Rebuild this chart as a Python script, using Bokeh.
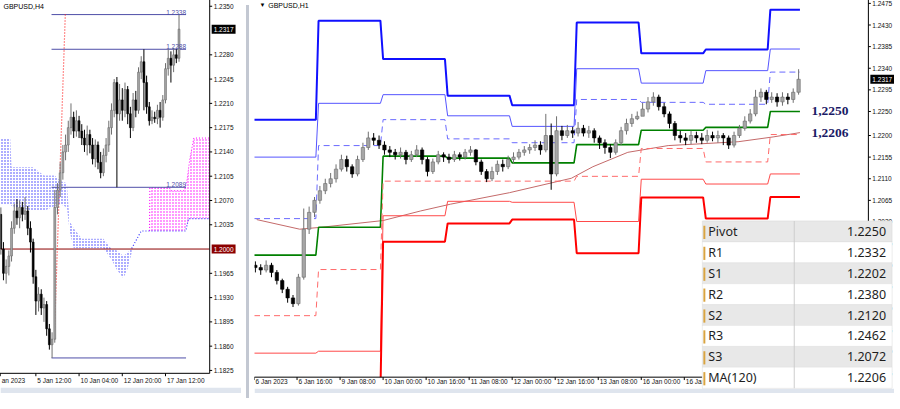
import numpy as np
from bokeh.plotting import figure
from bokeh.models import Range1d, Label, BoxAnnotation, Div, ColumnDataSource
from bokeh.layouts import row
from bokeh.core.properties import value
from bokeh.embed import file_html
from bokeh.resources import INLINE

# ======================= DATA =======================
# ---- left panel: GBPUSD H4 (bar index 0 = 5 Jan 12:00) ----
H4_FIRST_INDEX = -13
H4_OPEN_FIRST = 1.2050
H4_CLOSE = [1.2000, 1.1965, 1.1975, 1.1990, 1.2030, 1.2055, 1.2045, 1.2060, 1.2050, 1.2055, 1.2030, 1.2010, 1.1960,
            1.1925, 1.1935, 1.1915, 1.1920, 1.1885, 1.1862, 1.1870, 1.2060, 1.2085, 1.2110, 1.2140, 1.2150, 1.2175,
            1.2190, 1.2170, 1.2185, 1.2170, 1.2160, 1.2150, 1.2165, 1.2150, 1.2130, 1.2150, 1.2125, 1.2110, 1.2135,
            1.2150, 1.2175, 1.2200, 1.2240, 1.2195, 1.2215, 1.2200, 1.2230, 1.2195, 1.2175, 1.2215, 1.2200, 1.2255,
            1.2270, 1.2240, 1.2205, 1.2185, 1.2190, 1.2188, 1.2200, 1.2190, 1.2215, 1.2260, 1.2275, 1.2265, 1.2280,
            1.2275, 1.2317]
H4_HIGH = [1.2060, 1.2010, 1.1985, 1.1998, 1.2040, 1.2065, 1.2072, 1.2070, 1.2068, 1.2075, 1.2062, 1.2040, 1.2015,
           1.1970, 1.1945, 1.1942, 1.1930, 1.1925, 1.1892, 1.1880, 1.2085, 1.2095, 1.2125, 1.2150, 1.2165, 1.2185,
           1.2210, 1.2198, 1.2200, 1.2192, 1.2180, 1.2172, 1.2178, 1.2172, 1.2160, 1.2158, 1.2155, 1.2140, 1.2145,
           1.2160, 1.2185, 1.2210, 1.2245, 1.2248, 1.2238, 1.2232, 1.2240, 1.2235, 1.2205, 1.2225, 1.2228, 1.2262,
           1.2278, 1.2288, 1.2250, 1.2212, 1.2200, 1.2198, 1.2208, 1.2212, 1.2222, 1.2268, 1.2288, 1.2285, 1.2290,
           1.2288, 1.2338]
H4_LOW = [1.1992, 1.1955, 1.1950, 1.1962, 1.1982, 1.2022, 1.2035, 1.2030, 1.2040, 1.2042, 1.2020, 1.1995, 1.1950,
          1.1905, 1.1910, 1.1905, 1.1895, 1.1875, 1.1855, 1.1843, 1.1865, 1.2050, 1.2075, 1.2100, 1.2128, 1.2140,
          1.2165, 1.2160, 1.2162, 1.2160, 1.2150, 1.2140, 1.2135, 1.2138, 1.2122, 1.2118, 1.2115, 1.2102, 1.2105,
          1.2125, 1.2140, 1.2165, 1.2190, 1.2089, 1.2185, 1.2185, 1.2190, 1.2180, 1.2160, 1.2170, 1.2190, 1.2195,
          1.2245, 1.2200, 1.2195, 1.2178, 1.2180, 1.2182, 1.2180, 1.2175, 1.2185, 1.2210, 1.2250, 1.2240, 1.2255,
          1.2268, 1.2270]
H4_TICK_BARS = [-13.2, 0, 16, 32, 48]
H4_TICK_LABELS = ["an 2023", "5 Jan 12:00", "10 Jan 04:00", "12 Jan 20:00", "17 Jan 12:00"]
H4_PRICE_TICKS = [1.1825, 1.1860, 1.1895, 1.1930, 1.1965, 1.2035, 1.2070, 1.2105, 1.2140,
                  1.2175, 1.2210, 1.2245, 1.2280, 1.2350]
H4_LEVELS = [1.2338, 1.2288, 1.2089]
H4_LEVEL_LOW = 1.1843
H4_LEVEL_START, H4_LEVEL_END = 5.8, 55.6
H4_ROUND_LEVEL = 1.2000
H4_LAST = 1.2317
H4_TREND_I = [10.9, 6.9]
H4_TREND_P = [1.2338, 1.1880]
# Ichimoku cloud
KUMO_BLUE_I = [-13.1, -9.5, -9.0, -1.0, 3.0, 7.0, 9.0, 11.5, 12.5, 14.0, 17.0, 25.0, 28.0, 30.0, 32.4, 34.0, 35.5]
KUMO_BLUE_TOP = [1.2160, 1.2160, 1.2118, 1.2118, 1.2106, 1.2106, 1.2098, 1.2095, 1.2040, 1.2030, 1.2015, 1.2015,
                 1.2000, 1.1998, 1.1990, 1.1995, 1.2001]
KUMO_BLUE_BOT = [1.2065, 1.2065, 1.2062, 1.2055, 1.2055, 1.2062, 1.2065, 1.2060, 1.2026, 1.2001, 1.2001, 1.2001,
                 1.1985, 1.1970, 1.1958, 1.1972, 1.1995]
KUMO_MAG_I = [42.1, 42.2, 49.5, 50.0, 55.0, 56.0, 57.0, 58.5, 64.4]
KUMO_MAG_TOP = [1.2026, 1.2088, 1.2088, 1.2084, 1.2084, 1.2100, 1.2130, 1.2160, 1.2160]
KUMO_MAG_BOT = [1.2026, 1.2026, 1.2026, 1.2026, 1.2026, 1.2035, 1.2044, 1.2044, 1.2044]
SPAN_I = [35.5, 39.0, 55.5, 56.5, 64.4]
SPAN_P = [1.2001, 1.2026, 1.2026, 1.2044, 1.2044]

# ---- right panel: GBPUSD H1 (shown as 2-hour candles, bar 0 = 6 Jan 00:00) ----
H1_OPEN_FIRST = 1.1930
H1_CLOSE = [1.1925, 1.1920, 1.1930, 1.1915, 1.1898, 1.1880, 1.1862, 1.1850, 1.1905, 1.2005, 1.2040, 1.2065,
            1.2085, 1.2100, 1.2110, 1.2130, 1.2150, 1.2135, 1.2120, 1.2150, 1.2175, 1.2195, 1.2190, 1.2180,
            1.2170, 1.2165, 1.2160, 1.2165, 1.2150, 1.2160, 1.2170, 1.2150, 1.2125, 1.2145, 1.2160, 1.2155,
            1.2150, 1.2160, 1.2155, 1.2165, 1.2170, 1.2145, 1.2125, 1.2110, 1.2125, 1.2140, 1.2135, 1.2150,
            1.2155, 1.2165, 1.2170, 1.2175, 1.2180, 1.2170, 1.2200, 1.2120, 1.2210, 1.2200, 1.2210, 1.2205,
            1.2215, 1.2205, 1.2210, 1.2195, 1.2185, 1.2175, 1.2165, 1.2185, 1.2210, 1.2225, 1.2235, 1.2240,
            1.2255, 1.2270, 1.2280, 1.2260, 1.2245, 1.2225, 1.2200, 1.2195, 1.2190, 1.2200, 1.2195, 1.2190,
            1.2200, 1.2195, 1.2200, 1.2195, 1.2180, 1.2200, 1.2215, 1.2230, 1.2245, 1.2280, 1.2290, 1.2275,
            1.2280, 1.2270, 1.2280, 1.2275, 1.2290, 1.2317]
H1_HIGH = [1.1938, 1.1932, 1.1940, 1.1935, 1.1920, 1.1902, 1.1885, 1.1868, 1.1912, 1.2048, 1.2052, 1.2072,
           1.2095, 1.2110, 1.2122, 1.2140, 1.2160, 1.2158, 1.2140, 1.2158, 1.2185, 1.2208, 1.2205, 1.2200,
           1.2188, 1.2178, 1.2172, 1.2175, 1.2170, 1.2168, 1.2180, 1.2175, 1.2155, 1.2152, 1.2168, 1.2165,
           1.2162, 1.2168, 1.2165, 1.2172, 1.2178, 1.2172, 1.2150, 1.2130, 1.2135, 1.2148, 1.2150, 1.2158,
           1.2165, 1.2172, 1.2178, 1.2182, 1.2190, 1.2188, 1.2245, 1.2225, 1.2240, 1.2220, 1.2222, 1.2218,
           1.2228, 1.2222, 1.2220, 1.2215, 1.2200, 1.2192, 1.2182, 1.2192, 1.2218, 1.2235, 1.2245, 1.2250,
           1.2268, 1.2280, 1.2290, 1.2285, 1.2268, 1.2250, 1.2230, 1.2210, 1.2205, 1.2210, 1.2208, 1.2205,
           1.2212, 1.2208, 1.2210, 1.2205, 1.2200, 1.2208, 1.2222, 1.2240, 1.2255, 1.2295, 1.2298, 1.2295,
           1.2290, 1.2288, 1.2290, 1.2288, 1.2298, 1.2338]
H1_LOW = [1.1915, 1.1910, 1.1915, 1.1905, 1.1890, 1.1872, 1.1852, 1.1843, 1.1846, 1.1900, 1.1995, 1.2030,
          1.2058, 1.2078, 1.2092, 1.2102, 1.2125, 1.2125, 1.2112, 1.2115, 1.2145, 1.2170, 1.2180, 1.2172,
          1.2160, 1.2155, 1.2150, 1.2152, 1.2140, 1.2145, 1.2155, 1.2140, 1.2115, 1.2120, 1.2140, 1.2145,
          1.2142, 1.2145, 1.2148, 1.2150, 1.2158, 1.2138, 1.2118, 1.2103, 1.2105, 1.2118, 1.2125, 1.2130,
          1.2142, 1.2150, 1.2158, 1.2162, 1.2168, 1.2160, 1.2165, 1.2087, 1.2115, 1.2190, 1.2195, 1.2195,
          1.2198, 1.2198, 1.2195, 1.2185, 1.2172, 1.2162, 1.2153, 1.2160, 1.2180, 1.2202, 1.2218, 1.2232,
          1.2242, 1.2248, 1.2262, 1.2252, 1.2238, 1.2215, 1.2190, 1.2185, 1.2180, 1.2182, 1.2185, 1.2182,
          1.2185, 1.2188, 1.2185, 1.2180, 1.2172, 1.2175, 1.2195, 1.2210, 1.2225, 1.2240, 1.2270, 1.2265,
          1.2268, 1.2260, 1.2262, 1.2265, 1.2268, 1.2285]
# daily pivot levels (6, 9, 10, 11, 12, 13, 16, 17, 18 Jan)
PIV_R3 = [1.2233, 1.2439, 1.2359, 1.2283, 1.2263, 1.2435, 1.2371, 1.2379, 1.2462]
PIV_R2 = [1.2155, 1.2267, 1.2285, 1.2241, 1.2219, 1.2339, 1.2309, 1.2335, 1.2380]
PIV_R1 = [1.2027, 1.2179, 1.2233, 1.2193, 1.2185, 1.2275, 1.2269, 1.2265, 1.2332]
PIV_PP = [1.1951, 1.2009, 1.2157, 1.2153, 1.2143, 1.2181, 1.2211, 1.2217, 1.2250]
PIV_S1 = [1.1825, 1.1921, 1.2105, 1.2105, 1.2105, 1.2115, 1.2173, 1.2145, 1.2202]
PIV_S2 = [1.1747, 1.1751, 1.2033, 1.2063, 1.2061, 1.2021, 1.2109, 1.2099, 1.2120]
PIV_S3 = [1.1623, 1.1663, 1.1979, 1.2017, 1.2025, 1.1955, 1.2071, 1.2027, 1.2072]
DAY_BARS = 24
LAST_BAR = 203
MA120_BAR = [1, 17, 25, 48, 62, 73, 95, 118, 126, 139, 154, 180, 193, 203]
MA120_P = [1.2025, 1.2005, 1.2009, 1.2023, 1.2043, 1.2057, 1.2081, 1.2111, 1.2135, 1.2165, 1.2179, 1.2187,
           1.2197, 1.2206]
H1_LAST = 1.2317
H1_TICK_BARS = [0, 16, 32, 48, 64, 80, 96, 112, 128, 144, 160, 176, 192, 208]
H1_TICK_LABELS = ["6 Jan 2023", "6 Jan 16:00", "9 Jan 08:00", "10 Jan 00:00", "10 Jan 16:00", "11 Jan 08:00",
                  "12 Jan 00:00", "12 Jan 16:00", "13 Jan 08:00", "16 Jan 00:00", "16 Jan 16:00",
                  "17 Jan 08:00", "18 Jan 00:00", "18 Jan 16:00"]
H1_PRICE_TICKS = [1.1705, 1.1750, 1.1795, 1.1840, 1.1885, 1.1930, 1.1975, 1.2020, 1.2065, 1.2110, 1.2155,
                  1.2200, 1.2250, 1.2295, 1.2340, 1.2385, 1.2430, 1.2475]
TABLE_NAMES = ["Pivot", "R1", "S1", "R2", "S2", "R3", "S3", "MA(120)"]
TABLE_VALUES = ["1.2250", "1.2332", "1.2202", "1.2380", "1.2120", "1.2462", "1.2072", "1.2206"]
NOTE_PIVOT = 1.2250
NOTE_MA = 1.2206

# ======================= HELPERS =======================
AX_FONT = "Liberation Sans"
AX_SIZE = "6.5px"
H = 393
SX, SY = 884 / 900, 393 / 409   # screen px per reference px


def candles(p, xs, o, h, l, c, width):
    o, h, l, c = map(np.asarray, (o, h, l, c))
    bull = c >= o
    src = ColumnDataSource(dict(x=xs, h=h, l=l, top=np.maximum(o, c), bot=np.minimum(o, c),
                                wick=np.where(bull, "#707070", "#000000"),
                                body=np.where(bull, "#a6a6a6", "#000000"),
                                edge=np.where(bull, "#6a6a6a", "#000000")))
    p.segment(x0="x", y0="l", x1="x", y1="h", color="wick", line_width=1, source=src)
    p.vbar(x="x", width=width, top="top", bottom="bot", fill_color="body", line_color="edge",
           line_width=0.6, source=src)


def base_fig(width, xr, yr):
    p = figure(width=width, height=H, x_range=Range1d(*xr), y_range=Range1d(*yr),
               x_axis_type=None, y_axis_type=None, output_backend="svg", toolbar_location=None,
               min_border_left=0, min_border_right=0, min_border_top=0, min_border_bottom=0,
               background_fill_color="white", border_fill_color="white")
    p.outline_line_color = None
    return p


def draw_axes(p, fx, fy, ax_x, ax_y, left_x, price_ticks, lab_x, bars, labels, bar_px, xlab_y, strip_y):
    # mask glyphs that spill into the axis area
    p.add_layout(BoxAnnotation(left=fx(ax_x), fill_color="white", fill_alpha=1, line_color=None))
    p.add_layout(BoxAnnotation(top=fy(ax_y), fill_color="white", fill_alpha=1, line_color=None))
    p.add_layout(BoxAnnotation(top=fy(strip_y), fill_color="#dfe5ee", fill_alpha=1, line_color=None,
                               level="overlay"))
    # axis lines
    p.line([fx(left_x), fx(ax_x), fx(ax_x)], [fy(ax_y), fy(ax_y), fy(-2)], line_color="black",
           line_width=1, level="overlay")
    # price ticks + labels
    p.segment(x0=[fx(ax_x)] * len(price_ticks), x1=[fx(ax_x + 2.5)] * len(price_ticks),
              y0=price_ticks, y1=price_ticks, line_color="black", line_width=1, level="overlay")
    p.text(x=[fx(lab_x)] * len(price_ticks), y=price_ticks, text=[f"{t:.4f}" for t in price_ticks],
           text_font=value(AX_FONT), text_font_size=AX_SIZE, text_color="#111111",
           text_baseline="middle", text_align="left", level="overlay")
    # time ticks + labels (left-aligned at tick, as in MT4)
    p.segment(x0=bars, x1=bars, y0=[fy(ax_y)] * len(bars), y1=[fy(ax_y + 3)] * len(bars),
              line_color="black", line_width=1, level="overlay")
    p.text(x=[b + 1.5 / bar_px for b in bars], y=[fy(xlab_y)] * len(bars), text=labels,
           text_font=value(AX_FONT), text_font_size=AX_SIZE, text_color="#111111",
           text_baseline="middle", text_align="left", level="overlay")


# ======================= LEFT PANEL (H4) =======================
def ix(xr):
    return (xr - 36.0) / 2.75


def lp(yr):
    return 1.2350 - (yr - 6.0) / 7219.0


LW = 241
pl = base_fig(LW, (ix(0), ix(LW / SX)), (lp(H / SY), lp(0)))

pl.varea(x=KUMO_BLUE_I, y1=KUMO_BLUE_BOT, y2=KUMO_BLUE_TOP, fill_alpha=0.0,
         hatch_pattern="dot", hatch_color="#3030ff", hatch_scale=3, hatch_weight=1.3)
pl.varea(x=KUMO_MAG_I, y1=KUMO_MAG_BOT, y2=KUMO_MAG_TOP, fill_alpha=0.0,
         hatch_pattern="dot", hatch_color="#ff00ff", hatch_scale=3, hatch_weight=1.3)
pl.line(KUMO_MAG_I, KUMO_MAG_TOP, line_color="#ff00ff", line_dash="1 2", line_width=1)
pl.line(SPAN_I, SPAN_P, line_color="#3030ff", line_dash="1 2", line_width=1.2)

pl.line([ix(0), ix(213)], [H4_ROUND_LEVEL, H4_ROUND_LEVEL], line_color="#8b0000", line_width=1)
for lv in H4_LEVELS + [H4_LEVEL_LOW]:
    pl.line([H4_LEVEL_START, H4_LEVEL_END], [lv, lv], line_color="#4f4fa8", line_width=1)
for lv in H4_LEVELS:
    pl.add_layout(Label(x=H4_LEVEL_END, y=lv, text=f"{lv:.4f}", text_align="right", text_baseline="bottom",
                        text_font=AX_FONT, text_font_size="6.5px", text_color="#4f4fa8"))
pl.line(H4_TREND_I, H4_TREND_P, line_color="#ff2020", line_dash="1 2", line_width=1.2)

h4_x = list(range(H4_FIRST_INDEX, H4_FIRST_INDEX + len(H4_CLOSE)))
h4_open = [H4_OPEN_FIRST] + H4_CLOSE[:-1]
candles(pl, h4_x, h4_open, H4_HIGH, H4_LOW, H4_CLOSE, 0.7)

draw_axes(pl, ix, lp, 213, 388, -2, H4_PRICE_TICKS, 217, H4_TICK_BARS, H4_TICK_LABELS, 2.75, 395, 403)
pl.add_layout(Label(x=ix(3), y=lp(6), text="GBPUSD,H4", text_baseline="middle", text_font=AX_FONT,
                    text_font_size="7px", text_color="#000000"))
for v, bg in ((H4_LAST, "black"), (H4_ROUND_LEVEL, "#8b0000")):
    pl.add_layout(Label(x=ix(215), y=v, text=f"{v:.4f}", text_baseline="middle", text_font=AX_FONT,
                        text_font_size="6.5px", text_color="white", background_fill_color=bg,
                        padding=2, level="overlay"))


# ======================= RIGHT PANEL (H1) =======================
def bx(xr):
    return (xr - 247.5) / 2.738


def py(yr):
    return 1.2475 - (yr - 3.0) / 5000.0


RW = 640
pr = base_fig(RW, (bx(248), bx(248 + RW / SX)), (py(H / SY), py(0)))


def step_xy(vals):
    xs, ys = [], []
    for d, v in enumerate(vals):
        x0 = d * DAY_BARS
        x1 = LAST_BAR if d == len(vals) - 1 else x0 + DAY_BARS - 1
        xs += [x0, x1]
        ys += [v, v]
    return xs, ys


pr.line(MA120_BAR, MA120_P, line_color="#c46a6a", line_width=1)
styles = [
    (PIV_R3, "#1010ff", 2.0, "solid"),
    (PIV_R2, "#5555ff", 1.0, "solid"),
    (PIV_R1, "#6a6aff", 1.0, "6 4"),
    (PIV_PP, "#008000", 1.6, "solid"),
    (PIV_S1, "#ff6a6a", 1.0, "6 4"),
    (PIV_S2, "#ff4a4a", 1.0, "solid"),
    (PIV_S3, "#ff0000", 2.0, "solid"),
]
for vals, col, lw, dash in styles:
    xs, ys = step_xy(vals)
    pr.line(xs, ys, line_color=col, line_width=lw, line_dash=dash)

nk = len(H1_CLOSE)
h1_x = [2 * k + 0.5 for k in range(nk)]
h1_open = [H1_OPEN_FIRST] + H1_CLOSE[:-1]
candles(pr, h1_x, h1_open, H1_HIGH, H1_LOW, H1_CLOSE, 1.25)

draw_axes(pr, bx, py, 873, 392, 248, H1_PRICE_TICKS, 877, H1_TICK_BARS, H1_TICK_LABELS, 2.738, 397, 404)
pr.add_layout(Label(x=bx(253), y=py(5), text="\u25bc", text_baseline="middle", text_font=AX_FONT,
                    text_font_size="6px", text_color="#000000"))
pr.add_layout(Label(x=bx(262), y=py(5), text="GBPUSD,H1", text_baseline="middle", text_font=AX_FONT,
                    text_font_size="7px", text_color="#000000"))
for v in (NOTE_PIVOT, NOTE_MA):
    pr.add_layout(Label(x=bx(815), y=v, text=f"{v:.4f}".replace(".", ","), text_baseline="middle",
                        text_font="Liberation Serif", text_font_style="bold", text_font_size="13.5px",
                        text_color="#1a1a66"))
pr.add_layout(Label(x=bx(875), y=H1_LAST, text=f"{H1_LAST:.4f}", text_baseline="middle",
                    text_font=AX_FONT, text_font_size="6.5px", text_color="white",
                    background_fill_color="black", padding=2, level="overlay"))

# ---- table overlay ----
TX0, TXS, TX1 = 704, 797, 897
TY0, RH = 229.5, 21.75
NROW = len(TABLE_NAMES)
pr.add_layout(BoxAnnotation(left=bx(TX0), right=bx(TX1), top=py(TY0), bottom=py(TY0 + RH * NROW),
                            fill_color="white", fill_alpha=1, line_color="#cfcfcf", line_width=1,
                            level="overlay"))
for r, (nm, val) in enumerate(zip(TABLE_NAMES, TABLE_VALUES)):
    top = TY0 + r * RH
    bot = top + RH
    pr.add_layout(BoxAnnotation(left=bx(TX0), right=bx(TX1), top=py(top), bottom=py(bot),
                                fill_color="#e8e8e8" if r % 2 == 0 else "#ffffff", fill_alpha=1,
                                line_color="#d6d6d6", line_width=1, level="overlay"))
    pr.add_layout(BoxAnnotation(left=bx(705), right=bx(707), top=py(top + 5), bottom=py(bot - 3),
                                fill_color="#d9a441", fill_alpha=1, line_color=None, level="overlay"))
    mid = py(top + RH / 2)
    pr.add_layout(Label(x=bx(710), y=mid, text=nm, text_baseline="middle", text_font="Noto Sans",
                        text_font_size="12.5px", text_color="#1e1e1e", level="overlay"))
    pr.add_layout(Label(x=bx(891), y=mid, text=val, text_baseline="middle", text_align="right",
                        text_font="Noto Sans", text_font_size="12.5px", text_color="#1e1e1e",
                        level="overlay"))
pr.add_layout(BoxAnnotation(left=bx(TXS), right=bx(TXS + 1), top=py(TY0), bottom=py(TY0 + RH * NROW),
                            fill_color="#cccccc", fill_alpha=1, line_color=None, level="overlay"))

sep = Div(width=3, height=H, styles={"background-color": "#c3c8d2"})
layout = row(pl, sep, pr, spacing=0)
open("out.html", "w").write(file_html(layout, INLINE))
